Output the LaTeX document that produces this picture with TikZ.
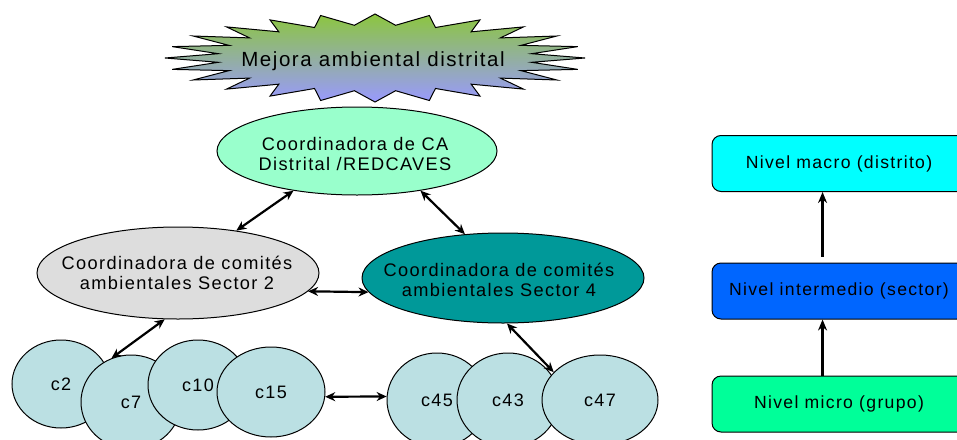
\documentclass[tikz,border=0pt]{standalone}
\usepackage{fontspec}
\setmainfont{Liberation Sans}[LetterSpace=7.5]
\usetikzlibrary{shapes.geometric,arrows.meta}
\definecolor{starTop}{RGB}{140,198,63}
\definecolor{starBot}{RGB}{153,153,255}
\definecolor{caGreen}{HTML}{99FFCC}
\definecolor{secGray}{HTML}{DDDDDD}
\definecolor{secTeal}{HTML}{009999}
\definecolor{cmBlue}{HTML}{BBE0E3}
\definecolor{macroCyan}{HTML}{00FFFF}
\definecolor{midBlue}{HTML}{0066FF}
\definecolor{microGreen}{HTML}{00FF99}
\begin{document}
\begin{tikzpicture}[x=1pt,y=-1pt,
   blob/.style={ellipse,draw,line width=1pt,inner sep=0pt},
   txt/.style={align=center,font=\fontsize{18.2}{20}\selectfont},
   comite/.style={blob,fill=cmBlue,font=\fontsize{18}{20}\selectfont},
   lvl/.style={draw,rounded corners=9pt,line width=1pt,minimum width=254pt,minimum height=56pt,inner sep=0pt,font=\fontsize{17.6}{20}\selectfont},
   link/.style={{Stealth[length=10pt,width=9pt]}-{Stealth[length=10pt,width=9pt]},line width=2.2pt},
   up/.style={-{Stealth[length=11pt,width=9pt]},line width=2.4pt}]
 \useasboundingbox (0,0) rectangle (957,439);
   % estrella
   \draw[line width=1pt,top color=starTop,bottom color=starBot] (585,58)
     \foreach \k in {0,...,23}{ -- ({375+158*cos(15*\k+7.5)},{58-33*sin(15*\k+7.5)}) -- ({375+210*cos(15*\k+15)},{58-44*sin(15*\k+15)}) } -- cycle;
   \node[txt,font=\fontsize{20.5}{24}\selectfont] (goal) at (373,61) {Mejora ambiental distrital};
   % coordinadoras
     \node[blob,fill=caGreen,minimum width=280pt,minimum height=88pt] (ca) at (357,151) {};
     \node[txt] (catxt) at (355,154) {Coordinadora de CA\\Distrital /REDCAVES};
     \node[blob,fill=secGray,minimum width=282pt,minimum height=92pt] (sec2) at (178,273) {};
     \node[txt] (sec2txt) at (177,272.5) {Coordinadora de comités\\ambientales Sector 2};
     \node[blob,fill=secTeal,minimum width=282pt,minimum height=90pt] (sec4) at (503,278) {};
     \node[txt] (sec4txt) at (499,280) {Coordinadora de comités\\ambientales Sector 4};
   % comites
       \node[comite,minimum width=98pt,minimum height=88pt] (c2) at (61,384) {c2};
       \node[comite,minimum width=100pt,minimum height=94pt] (c7) at (131,402) {c7};
       \node[comite,minimum width=100pt,minimum height=90pt] (c10) at (198,385) {c10};
       \node[comite,minimum width=108pt,minimum height=90pt] (c15) at (271,392) {c15};
       \node[comite,minimum width=100pt,minimum height=94pt] (c45) at (437,400) {c45};
       \node[comite,minimum width=102pt,minimum height=94pt] (c43) at (508,400) {c43};
       \node[comite,minimum width=116pt,minimum height=90pt] (c47) at (600,400) {c47};
   \draw[link] (ca.212) -- (sec2.36);
   \draw[link] (ca.328) -- (sec4.131);
   \draw[link] (sec2.352) -- (sec4.186);
   \draw[link] (sec2.254) -- (c7.114);
   \draw[link] (sec4.275) -- (c47.149);
   \draw[link] (c15.355) -- (c45.176);
   % niveles
      \node[lvl,fill=macroCyan] (macro) at (839,163.5) {Nivel macro (distrito)};
      \node[lvl,fill=midBlue] (inter) at (839,291) {Nivel intermedio (sector)};
      \node[lvl,fill=microGreen] (micro) at (839,404) {Nivel micro (grupo)};
   \draw[up,shorten <=6pt] (inter.120) -- (macro.240);
   \draw[up] (micro.120) -- (inter.240);
\end{tikzpicture}
\end{document}
